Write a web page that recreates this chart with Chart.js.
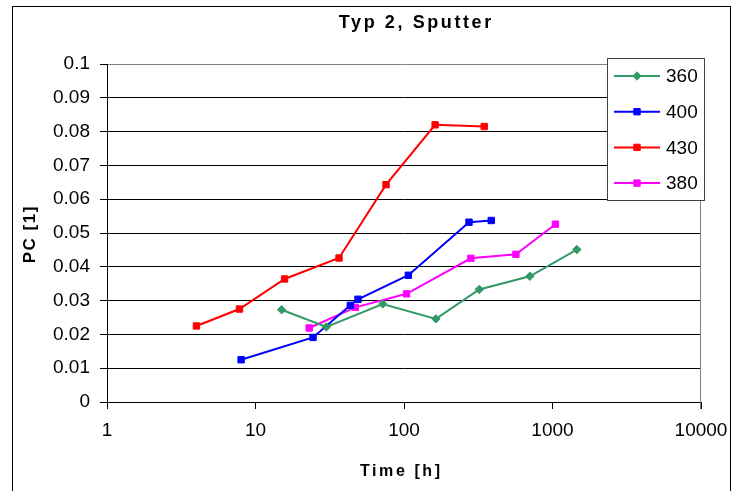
<!DOCTYPE html>
<html>
<head>
<meta charset="utf-8">
<script src="https://cdn.jsdelivr.net/npm/chart.js@4"></script>
<style>
  body { margin: 0; background: #fff; }
  canvas { display: block; }
</style>
</head>
<body>
<canvas id="chart" width="732" height="491"></canvas>
<script>
// values
const t360 = [15, 30, 72, 164, 321, 704, 1459];
const pc360 = [0.0273, 0.0222, 0.0290, 0.0246, 0.0333, 0.0372, 0.0451];
const t400 = [8, 24.4, 43.5, 49, 107, 274, 387];
const pc400 = [0.0125, 0.0191, 0.0286, 0.0304, 0.0375, 0.0532, 0.0537];
const t430 = [4, 7.8, 15.7, 36.5, 75.7, 162, 347];
const pc430 = [0.0225, 0.0275, 0.0364, 0.0426, 0.0643, 0.0820, 0.0815];
const t380 = [23, 47, 104, 282, 567, 1047];
const pc380 = [0.0219, 0.0280, 0.0320, 0.0425, 0.0437, 0.0526];

const seriesNames = ["360", "400", "430", "380"];
const xTickValues = [1, 10, 100, 1000, 10000];
const yTickValues = [0, 0.01, 0.02, 0.03, 0.04, 0.05, 0.06, 0.07, 0.08, 0.09, 0.1];

const colors = ["#339966", "#0000FF", "#FF0000", "#FF00FF"];
const markers = ["rectRot", "rect", "rect", "rect"];

function toPoints(xs, ys) {
  return xs.map((x, i) => ({ x: x, y: ys[i] }));
}

const seriesData = [
  toPoints(t360, pc360),
  toPoints(t400, pc400),
  toPoints(t430, pc430),
  toPoints(t380, pc380),
];

const datasets = seriesNames.map((name, i) => ({
  label: name,
  data: seriesData[i],
  showLine: true,
  borderColor: colors[i],
  backgroundColor: colors[i],
  borderWidth: 2,
  pointStyle: markers[i],
  pointRadius: markers[i] === "rectRot" ? 4.2 : 4.5,
  pointBorderWidth: 1,
  pointBackgroundColor: colors[i],
  pointBorderColor: colors[i],
}));

function drawText(ctx, text, x, y, font, spacing, angle) {
  ctx.save();
  ctx.font = font;
  ctx.fillStyle = "#000";
  if ("letterSpacing" in ctx) ctx.letterSpacing = spacing + "px";
  ctx.textAlign = "center";
  ctx.textBaseline = "alphabetic";
  ctx.translate(x, y);
  if (angle) ctx.rotate(angle);
  ctx.fillText(text, spacing / 2, 0);
  ctx.restore();
}

function drawMarker(ctx, style, x, y, r) {
  ctx.beginPath();
  if (style === "rectRot") {
    ctx.moveTo(x, y - r);
    ctx.lineTo(x + r, y);
    ctx.lineTo(x, y + r);
    ctx.lineTo(x - r, y);
    ctx.closePath();
  } else {
    const s = r * Math.SQRT1_2;
    ctx.rect(x - s, y - s, 2 * s, 2 * s);
  }
  ctx.fill();
  ctx.stroke();
}

const decor = {
  id: "decor",
  beforeDraw(chart) {
    const ctx = chart.ctx;
    ctx.save();
    ctx.fillStyle = "#fff";
    ctx.fillRect(0, 0, chart.width, chart.height);
    ctx.strokeStyle = "#000";
    ctx.lineWidth = 1;
    ctx.strokeRect(12.5, 6.5, 718, 520);
    ctx.restore();
  },
  beforeDatasetsDraw(chart) {
    const ctx = chart.ctx;
    const a = chart.chartArea;
    ctx.save();
    ctx.strokeStyle = "#808080";
    ctx.lineWidth = 1;
    ctx.beginPath();
    ctx.moveTo(Math.round(a.right) - 0.5, a.top);
    ctx.lineTo(Math.round(a.right) - 0.5, a.bottom + 7);
    ctx.stroke();
    ctx.restore();
  },
  afterDraw(chart) {
    const ctx = chart.ctx;
    drawText(ctx, "Typ 2, Sputter", 415, 28, "bold 18px 'Liberation Sans', Arial", 2.6, 0);
    drawText(ctx, "Time [h]", 400, 476, "bold 16px 'Liberation Sans', Arial", 2.6, 0);
    drawText(ctx, "PC [1]", 35, 235, "bold 17px 'Liberation Sans', Arial", 1.5, -Math.PI / 2);

    // legend box
    ctx.save();
    ctx.fillStyle = "#fff";
    ctx.fillRect(607, 58, 98, 143);
    ctx.strokeStyle = "#404040";
    ctx.lineWidth = 1;
    ctx.strokeRect(607.5, 58.5, 97, 142);
    chart.data.datasets.forEach((ds, i) => {
      const y = 76 + i * 35.7;
      ctx.strokeStyle = ds.borderColor;
      ctx.fillStyle = ds.borderColor;
      ctx.lineWidth = 2;
      ctx.beginPath();
      ctx.moveTo(614, y);
      ctx.lineTo(660, y);
      ctx.stroke();
      ctx.lineWidth = 1;
      drawMarker(ctx, ds.pointStyle, 637, y, ds.pointRadius);
      ctx.fillStyle = "#000";
      ctx.font = "19px 'Liberation Sans', Arial";
      ctx.textAlign = "left";
      ctx.textBaseline = "middle";
      ctx.fillText(ds.label, 666, y + 1);
    });
    ctx.restore();
  },
};

new Chart(document.getElementById("chart"), {
  type: "scatter",
  data: { datasets },
  plugins: [decor],
  options: {
    responsive: false,
    animation: false,
    layout: { padding: { top: 64, right: 31, bottom: 0, left: 0 } },
    plugins: {
      legend: { display: false },
      title: { display: false },
      tooltip: { enabled: false },
    },
    scales: {
      x: {
        type: "logarithmic",
        min: 1,
        max: 10000,
        afterBuildTicks: (s) => {
          s.ticks = xTickValues.map((v) => ({ value: v }));
        },
        afterFit: (s) => {
          s.height = 89;
          s.paddingLeft = 0;
          s.paddingRight = 0;
        },
        ticks: {
          color: "#000",
          font: { family: "'Liberation Sans', Arial", size: 19 },
          padding: 10,
          maxRotation: 0,
          autoSkip: false,
          callback: (v) => String(v),
        },
        grid: {
          drawOnChartArea: false,
          drawTicks: true,
          tickLength: 7,
          color: "#000",
        },
        border: { color: "#000", width: 1 },
      },
      y: {
        min: 0,
        max: 0.1,
        afterBuildTicks: (s) => {
          s.ticks = yTickValues.map((v) => ({ value: v }));
        },
        afterFit: (s) => {
          s.width = 107;
          s.paddingTop = 0;
          s.paddingBottom = 0;
        },
        ticks: {
          color: "#000",
          font: { family: "'Liberation Sans', Arial", size: 19 },
          padding: 10,
          callback: (v) => String(+v.toFixed(2)),
        },
        grid: {
          color: (c) => (c.tick && c.tick.value === 0.1 ? "#808080" : "#000"),
          tickColor: "#000",
          tickLength: 7,
        },
        border: { color: "#000", width: 1 },
      },
    },
  },
});
</script>
</body>
</html>
